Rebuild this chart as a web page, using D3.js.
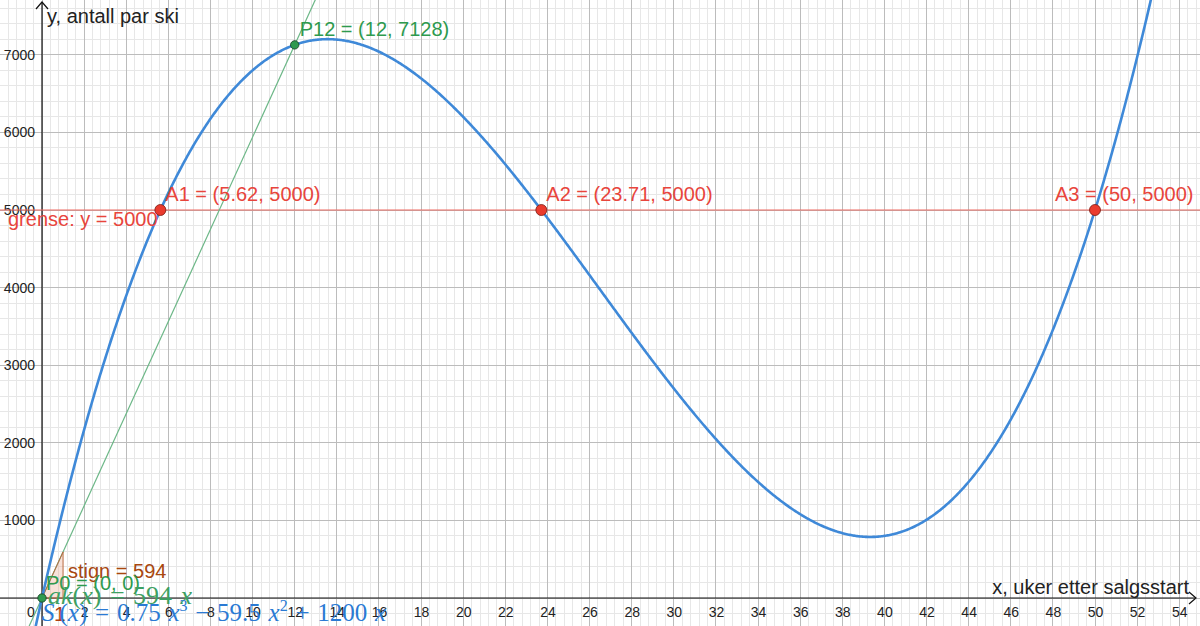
<!DOCTYPE html>
<html>
<head>
<meta charset="utf-8">
<script src="https://cdn.jsdelivr.net/npm/d3@7"></script>
<style>
  html, body { margin: 0; padding: 0; background: #fff; }
  svg { display: block; font-family: "Liberation Sans", Arial, sans-serif; }
</style>
</head>
<body>
<svg id="chart"></svg>
<script>
// values
const xTickLabels = [2, 4, 6, 8, 10, 12, 14, 16, 18, 20, 22, 24, 26, 28, 30, 32, 34, 36, 38, 40, 42, 44, 46, 48, 50, 52, 54];
const yTickLabels = [1000, 2000, 3000, 4000, 5000, 6000, 7000];

// S(x) = 0.75 x^3 - 59.5 x^2 + 1200 x  (from the label in the chart)
const sCoeffs = [0.75, -59.5, 1200, 0];
const secantSlope = 594;
const limitY = 5000;

const redNames = ['A1', 'A2', 'A3'];
const redX = [5.62, 23.71, 50];
const redY = [5000, 5000, 5000];

const greenNames = ['P0', 'P12'];
const greenX = [0, 12];
const greenY = [0, 7128];

const W = 1200, H = 626;
const svg = d3.select('#chart').attr('width', W).attr('height', H);

const x = d3.scaleLinear().domain([0, 50]).range([42, 1095]);
const y = d3.scaleLinear().domain([0, 5000]).range([598, 210]);

const xMin = x.invert(0), xMax = x.invert(W);
const yMin = y.invert(H), yMax = y.invert(0);

// grid
const grid = svg.append('g').attr('shape-rendering', 'crispEdges');
const minorX = d3.range(Math.ceil(xMin / 0.4) * 0.4, xMax, 0.4);
const minorY = d3.range(Math.ceil(yMin / 200) * 200, yMax, 200);
grid.selectAll('.mx').data(minorX).join('line')
  .attr('x1', d => x(d)).attr('x2', d => x(d)).attr('y1', 0).attr('y2', H)
  .attr('stroke', '#e7e7e7');
grid.selectAll('.my').data(minorY).join('line')
  .attr('y1', d => y(d)).attr('y2', d => y(d)).attr('x1', 0).attr('x2', W)
  .attr('stroke', '#e7e7e7');
const majorX = d3.range(-2, 56, 2);
const majorY = d3.range(0, 8000, 1000);
grid.selectAll('.Mx').data(majorX).join('line')
  .attr('x1', d => x(d)).attr('x2', d => x(d)).attr('y1', 0).attr('y2', H)
  .attr('stroke', '#bcbcbc');
grid.selectAll('.My').data(majorY).join('line')
  .attr('y1', d => y(d)).attr('y2', d => y(d)).attr('x1', 0).attr('x2', W)
  .attr('stroke', '#bcbcbc');

// axes
const xAxis = svg.append('g')
  .attr('transform', `translate(0,${y(0)})`)
  .call(d3.axisBottom(x).tickValues(xTickLabels).tickSize(0).tickPadding(9).tickFormat(d3.format('d')));
const yAxis = svg.append('g')
  .attr('transform', `translate(${x(0)},0)`)
  .call(d3.axisLeft(y).tickValues(yTickLabels).tickSize(0).tickPadding(7).tickFormat(d3.format('d')));
[xAxis, yAxis].forEach(a => {
  a.select('.domain').remove();
  a.selectAll('text').attr('font-size', 14).attr('fill', '#222')
    .attr('font-family', '"Liberation Sans", Arial, sans-serif');
});
svg.append('text').attr('x', x(0) - 11).attr('y', 617).attr('text-anchor', 'middle')
  .attr('font-size', 14).attr('fill', '#222').text('0');

svg.append('line').attr('x1', 0).attr('x2', 1195).attr('y1', y(0)).attr('y2', y(0))
  .attr('stroke', '#111').attr('stroke-width', 1.2);
svg.append('line').attr('x1', x(0)).attr('x2', x(0)).attr('y1', H).attr('y2', 2)
  .attr('stroke', '#111').attr('stroke-width', 1.2);
svg.append('path').attr('d', `M1189,${y(0) - 6}L1196,${y(0)}L1189,${y(0) + 6}`)
  .attr('fill', 'none').attr('stroke', '#111').attr('stroke-width', 1.2);
svg.append('path').attr('d', `M${x(0) - 6},9L${x(0)},2L${x(0) + 6},9`)
  .attr('fill', 'none').attr('stroke', '#111').attr('stroke-width', 1.2);

svg.append('text').attr('x', 47).attr('y', 23).attr('font-size', 20).attr('fill', '#222')
  .text('y, antall par ski');
svg.append('text').attr('x', 1189).attr('y', 594).attr('text-anchor', 'end')
  .attr('font-size', 20).attr('fill', '#222').text('x, uker etter salgsstart');

// grense line
const red = '#e8453c';
svg.append('line').attr('x1', 0).attr('x2', W).attr('y1', y(limitY)).attr('y2', y(limitY))
  .attr('stroke', '#ee6a62').attr('stroke-width', 1.2);

// secant line ak(x) = 594 x
const green = '#2e9a4e';
svg.append('line')
  .attr('x1', x(xMin)).attr('y1', y(secantSlope * xMin))
  .attr('x2', x(xMax)).attr('y2', y(secantSlope * xMax))
  .attr('stroke', '#6cb787').attr('stroke-width', 1.2);

// slope triangle
const brown = '#a8470f';
svg.append('path')
  .attr('d', `M${x(0)},${y(0)}L${x(1)},${y(0)}L${x(1)},${y(secantSlope)}Z`)
  .attr('fill', '#e8a080').attr('fill-opacity', 0.3)
  .attr('stroke', '#b86a40').attr('stroke-width', 1);

// curve S(x)
const S = t => sCoeffs[0] * t * t * t + sCoeffs[1] * t * t + sCoeffs[2] * t + sCoeffs[3];
const xs = d3.range(xMin, xMax, 0.05);
const line = d3.line().x(d => x(d)).y(d => y(S(d)));
svg.append('path').datum(xs)
  .attr('fill', 'none').attr('stroke', '#3f89d8').attr('stroke-width', 2.6)
  .attr('d', line);

// points
svg.selectAll('.rp').data(redX).join('circle')
  .attr('cx', d => x(d)).attr('cy', (d, i) => y(redY[i])).attr('r', 5.5)
  .attr('fill', '#ea3b2e').attr('stroke', '#7a1a12').attr('stroke-width', 0.8);
svg.selectAll('.gp').data(greenX).join('circle')
  .attr('cx', d => x(d)).attr('cy', (d, i) => y(greenY[i])).attr('r', 4.2)
  .attr('fill', '#2f9a4f').attr('stroke', '#133d1f').attr('stroke-width', 0.8);

// labels
svg.selectAll('.rl').data(redX).join('text')
  .attr('x', (d, i) => i === 2 ? x(d) - 40 : x(d) + 5).attr('y', 201)
  .attr('font-size', 20).attr('fill', red)
  .text((d, i) => `${redNames[i]} = (${d}, ${redY[i]})`);
svg.append('text').attr('x', 8).attr('y', 226).attr('font-size', 20).attr('fill', red)
  .text(`grense: y = ${limitY}`);

svg.append('text').attr('x', x(greenX[1]) + 5).attr('y', 36)
  .attr('font-size', 20).attr('fill', green)
  .text(`${greenNames[1]} = (${greenX[1]}, ${greenY[1]})`);

svg.append('text').attr('x', 68).attr('y', 578).attr('font-size', 20).attr('fill', brown)
  .text(`stign = ${secantSlope}`);
svg.append('text').attr('x', 46).attr('y', 590).attr('font-size', 20).attr('fill', green)
  .text(`${greenNames[0]} = (${greenX[0]}, ${greenY[0]})`);

// formula labels
const serif = '"Liberation Serif", "Times New Roman", serif';
const ak = svg.append('text').attr('x', 48).attr('y', 604)
  .attr('font-family', serif).attr('font-size', 26).attr('fill', '#3da062')
  .attr('word-spacing', 2);
ak.append('tspan').attr('font-style', 'italic').text('ak');
ak.append('tspan').text('(');
ak.append('tspan').attr('font-style', 'italic').text('x');
ak.append('tspan').text(`) = ${secantSlope} `);
ak.append('tspan').attr('font-style', 'italic').text('x');

svg.append('text').attr('x', 54).attr('y', 621).attr('font-size', 21).attr('fill', '#b0400f')
  .text('1');

const sl = svg.append('text').attr('x', 42).attr('y', 621)
  .attr('font-family', serif).attr('font-size', 25).attr('fill', '#2a7ad4')
  .attr('word-spacing', 1.5);
sl.append('tspan').attr('font-style', 'italic').text('S');
sl.append('tspan').text('\u2009(');
sl.append('tspan').attr('font-style', 'italic').text('x');
sl.append('tspan').text(`) = ${sCoeffs[0]} `);
sl.append('tspan').attr('font-style', 'italic').text('x');
sl.append('tspan').attr('font-size', 16).attr('dy', -10).text('3');
sl.append('tspan').attr('dy', 10).text(` \u2212 ${-sCoeffs[1]} `);
sl.append('tspan').attr('font-style', 'italic').text('x');
sl.append('tspan').attr('font-size', 16).attr('dy', -10).text('2');
sl.append('tspan').attr('dy', 10).text(` + ${sCoeffs[2]} `);
sl.append('tspan').attr('font-style', 'italic').text('x');
</script>
</body>
</html>
